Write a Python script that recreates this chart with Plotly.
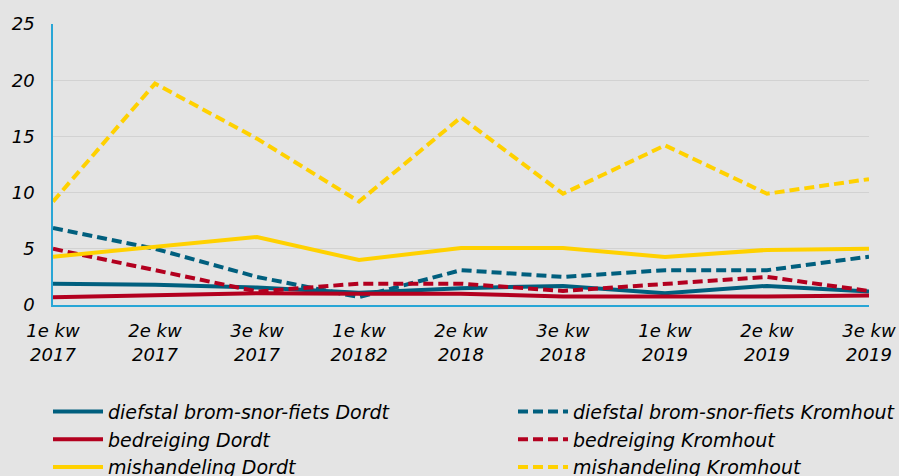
import plotly.graph_objects as go

categories = ["1e kw<br>2017", "2e kw<br>2017", "3e kw<br>2017", "1e kw<br>20182",
              "2e kw<br>2018", "3e kw<br>2018", "1e kw<br>2019", "2e kw<br>2019", "3e kw<br>2019"]

diefstal_dordt = [1.9, 1.8, 1.55, 1.1, 1.5, 1.7, 1.05, 1.7, 1.2]
diefstal_kromhout = [6.85, 5.0, 2.5, 0.7, 3.1, 2.5, 3.1, 3.1, 4.3]
bedreiging_dordt = [0.7, 0.85, 1.05, 1.0, 1.0, 0.75, 0.75, 0.75, 0.85]
bedreiging_kromhout = [5.0, 3.1, 1.2, 1.9, 1.9, 1.25, 1.9, 2.5, 1.25]
mishandeling_dordt = [4.3, 5.2, 6.05, 4.0, 5.07, 5.07, 4.27, 4.9, 5.0]
mishandeling_kromhout = [9.2, 19.7, 14.8, 9.2, 16.7, 9.9, 14.2, 9.9, 11.2]

BLUE = "#005f7e"
RED = "#b3001f"
YELLOW = "#ffd100"
FONT = "DejaVu Sans"

series = [
    ("diefstal brom-snor-fiets Dordt", diefstal_dordt, BLUE, "solid", "legend"),
    ("diefstal brom-snor-fiets Kromhout", diefstal_kromhout, BLUE, "10px,5px", "legend2"),
    ("bedreiging Dordt", bedreiging_dordt, RED, "solid", "legend"),
    ("bedreiging Kromhout", bedreiging_kromhout, RED, "10px,5px", "legend2"),
    ("mishandeling Dordt", mishandeling_dordt, YELLOW, "solid", "legend"),
    ("mishandeling Kromhout", mishandeling_kromhout, YELLOW, "10px,5px", "legend2"),
]

fig = go.Figure()
for name, vals, color, dash, leg in series:
    fig.add_trace(go.Scatter(
        x=categories, y=vals, mode="lines", name=name, legend=leg,
        line=dict(color=color, width=4, dash=dash),
    ))

legend_common = dict(
    orientation="v", xref="container", yref="container",
    xanchor="left", y=0.175, yanchor="top",
    font=dict(family=FONT, size=19, style="italic"),
    bgcolor="rgba(0,0,0,0)", tracegroupgap=0, itemwidth=50,
)

fig.update_layout(
    width=899, height=476,
    paper_bgcolor="#e4e4e4", plot_bgcolor="#e4e4e4",
    margin=dict(l=53, r=30, t=24, b=171, autoexpand=False),
    font=dict(family=FONT, size=18, color="#000000", style="italic"),
    showlegend=True,
    legend=dict(x=48 / 899, **legend_common),
    legend2=dict(x=513 / 899, **legend_common),
    xaxis=dict(
        type="category", range=[0, 8], showgrid=False,
        showline=True, linecolor="#29a6d6", linewidth=1.5,
        ticks="", ticklabelstandoff=9,
        tickfont=dict(family=FONT, size=18, style="italic"),
        zeroline=False, fixedrange=True,
    ),
    yaxis=dict(
        range=[0, 25], dtick=5, showgrid=True, gridcolor="#d2d2d2", gridwidth=1,
        showline=True, linecolor="#29a6d6", linewidth=1.5,
        ticks="", ticklabelstandoff=13,
        tickfont=dict(family=FONT, size=18, style="italic"),
        zeroline=False, fixedrange=True,
    ),
)

fig.write_html("out.html", config={"displayModeBar": False},
               post_script="document.body.style.margin='0px';document.body.style.padding='0px';")
